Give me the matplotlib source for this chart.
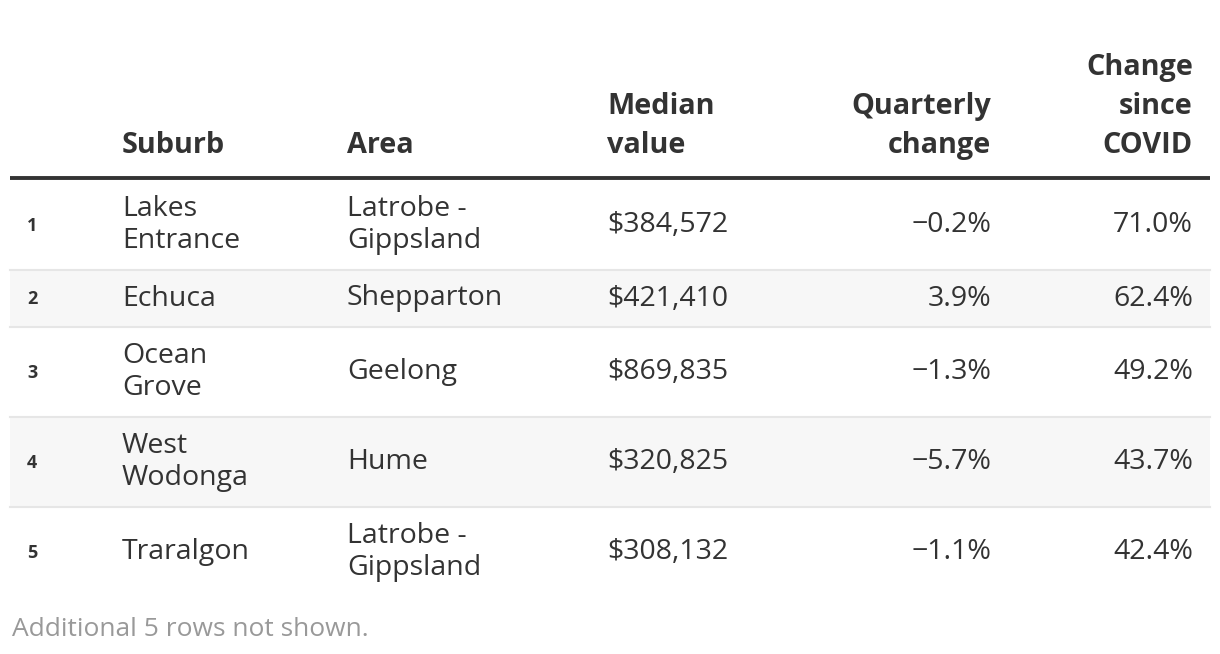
import matplotlib
matplotlib.use("Agg")
import matplotlib.pyplot as plt
from matplotlib.patches import Rectangle

# ---- data ----
ranks = [1, 2, 3, 4, 5]
suburbs = ["Lakes\nEntrance", "Echuca", "Ocean\nGrove", "West\nWodonga", "Traralgon"]
areas = ["Latrobe -\nGippsland", "Shepparton", "Geelong", "Hume", "Latrobe -\nGippsland"]
median_values = [384572, 421410, 869835, 320825, 308132]
quarterly_change = [-0.2, 3.9, -1.3, -5.7, -1.1]
covid_change = [71.0, 62.4, 49.2, 43.7, 42.4]
headers = ["Suburb", "Area", "Median\nvalue", "Quarterly\nchange", "Change\nsince\nCOVID"]
footer = "Additional 5 rows not shown."

FONT = "Open Sans"
TXT = "#333333"

W, H = 1220, 654
fig = plt.figure(figsize=(W / 100, H / 100), dpi=100)
ax = fig.add_axes([0, 0, 1, 1])
ax.set_xlim(0, W)
ax.set_ylim(H, 0)
ax.axis("off")

left, right = 10, 1210
col_x = [27, 122, 347, 607, 991, 1193]
col_ha = ["left", "left", "left", "left", "right", "right"]

# header
header_base = 153
for i, h in enumerate(headers):
    ax.text(col_x[i + 1], header_base, h, ha=col_ha[i + 1], va="baseline",
            fontsize=20.8, fontweight="bold", color=TXT, family=FONT,
            linespacing=1.45)
ax.plot([left, right], [178, 178], color=TXT, lw=2.8, solid_capstyle="butt")

def fmt_pct(v):
    s = f"{abs(v):.1f}%"
    return ("\u2212" + s) if v < 0 else s

y = 180
for r in range(len(ranks)):
    nlines = max(suburbs[r].count("\n"), areas[r].count("\n")) + 1
    rh = 90 if nlines > 1 else 57
    if r % 2 == 1:
        ax.add_patch(Rectangle((left, y), right - left, rh, color="#f7f7f7", lw=0, zorder=0))
    if r > 0:
        ax.plot([left, right], [y, y], color="#e6e6e6", lw=1.5, zorder=1)
    cy = y + rh / 2
    cells = [str(ranks[r]), suburbs[r], areas[r], f"${median_values[r]:,}",
             fmt_pct(quarterly_change[r]), fmt_pct(covid_change[r])]
    for c, t in enumerate(cells):
        if c == 0:
            ax.text(col_x[c], cy + 1, t, ha="left", va="center", fontsize=13,
                    fontweight="bold", color=TXT, family=FONT)
        else:
            ax.text(col_x[c], cy, t, ha=col_ha[c], va="center", fontsize=20.5,
                    color=TXT, family=FONT, linespacing=1.22)
    y += rh

ax.text(12, 629, footer, ha="left", va="center", fontsize=19, color="#999999", family=FONT)

fig.savefig("out.png", dpi=100)
